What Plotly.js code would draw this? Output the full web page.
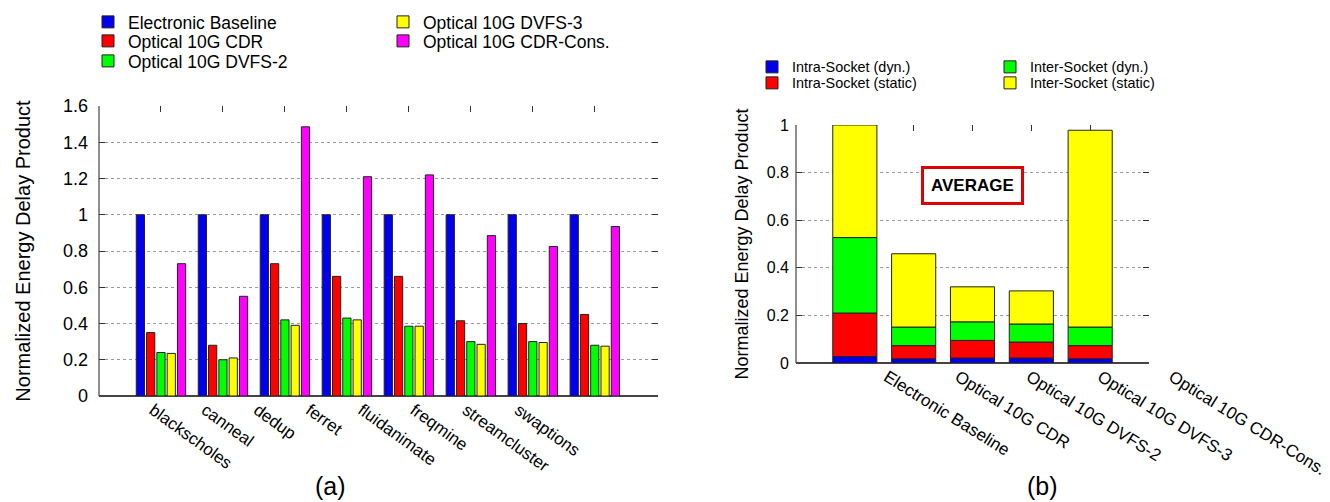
<!DOCTYPE html>
<html>
<head>
<meta charset="utf-8">
<script src="https://cdn.plot.ly/plotly-3.0.1.min.js"></script>
<style>html,body{margin:0;padding:0;background:#fff;}#chart{width:1330px;height:502px;}</style>
</head>
<body>
<div id="chart"></div>
<script>
// ---- Data: panel (a) ----
const benchmarks = ["blackscholes","canneal","dedup","ferret","fluidanimate","freqmine","streamcluster","swaptions"];
const electronicBaseline = [1, 1, 1, 1, 1, 1, 1, 1];
const optical10gCdr      = [0.35, 0.28, 0.73, 0.66, 0.66, 0.415, 0.40, 0.45];
const optical10gDvfs2    = [0.24, 0.20, 0.42, 0.43, 0.385, 0.30, 0.30, 0.28];
const optical10gDvfs3    = [0.235, 0.21, 0.39, 0.42, 0.385, 0.285, 0.295, 0.275];
const optical10gCdrCons  = [0.73, 0.55, 1.485, 1.21, 1.22, 0.885, 0.825, 0.935];
const seriesNamesA = ["Electronic Baseline","Optical 10G CDR","Optical 10G DVFS-2","Optical 10G DVFS-3","Optical 10G CDR-Cons."];
const yTicksA = [0, 0.2, 0.4, 0.6, 0.8, 1, 1.2, 1.4, 1.6];
const yTickTextA = ["0","0.2","0.4","0.6","0.8","1","1.2","1.4","1.6"];

// ---- Data: panel (b) ----
const configurations = ["Electronic Baseline","Optical 10G CDR","Optical 10G DVFS-2","Optical 10G DVFS-3","Optical 10G CDR-Cons."];
const intraSocketDyn    = [0.027, 0.018, 0.021, 0.021, 0.018];
const intraSocketStatic = [0.183, 0.055, 0.074, 0.067, 0.055];
const interSocketDyn    = [0.317, 0.078, 0.078, 0.076, 0.078];
const interSocketStatic = [0.473, 0.308, 0.147, 0.139, 0.827];
const seriesNamesB = ["Intra-Socket (dyn.)","Intra-Socket (static)","Inter-Socket (dyn.)","Inter-Socket (static)"];
const yTicksB = [0, 0.2, 0.4, 0.6, 0.8, 1];
const yTickTextB = ["0","0.2","0.4","0.6","0.8","1"];

const FONT = "Liberation Sans, Arial, Helvetica, sans-serif";
const colorsA = ["#0000ee","#ff0000","#00ff00","#ffff00","#ff00ff"];
const colorsB = ["#0000ee","#ff0000","#00ff00","#ffff00"];
const outline = {color: "#222", width: 1};
const W = 1330, H = 502;
const px = v => v / W, py = v => 1 - v / H;

const traces = [];
const valuesA = [electronicBaseline, optical10gCdr, optical10gDvfs2, optical10gDvfs3, optical10gCdrCons];
const legendIdsA = ["legend","legend2","legend3","legend4","legend5"];
valuesA.forEach((vals, i) => {
  traces.push({
    type: "bar", x: benchmarks, y: vals, name: seriesNamesA[i],
    xaxis: "x", yaxis: "y", legend: legendIdsA[i], showlegend: true,
    marker: {color: colorsA[i], line: outline}
  });
});

const valuesB = [intraSocketDyn, intraSocketStatic, interSocketDyn, interSocketStatic];
const legendIdsB = ["legend6","legend7","legend8","legend9"];
let cumulative = configurations.map(() => 0);
valuesB.forEach((vals, i) => {
  const base = cumulative.slice();
  traces.push({
    type: "bar", x: configurations, y: vals, base: base, name: seriesNamesB[i],
    xaxis: "x2", yaxis: "y2", legend: legendIdsB[i], showlegend: true,
    offsetgroup: "stackB", width: 0.75, offset: -0.375,
    marker: {color: colorsB[i], line: outline}
  });
  cumulative = cumulative.map((c, j) => c + vals[j]);
});

// label-carrying helper traces (draw nothing; they only make the label axes exist)
traces.push({type: "scatter", mode: "none", x: benchmarks.map((_, i) => i), y: electronicBaseline,
  xaxis: "x3", yaxis: "y", showlegend: false, hoverinfo: "skip"});
traces.push({type: "scatter", mode: "none", x: configurations.map((_, i) => i), y: interSocketStatic,
  xaxis: "x4", yaxis: "y3", showlegend: false, hoverinfo: "skip"});

const gridStyle = {showgrid: true, gridcolor: "#9a9a9a", griddash: "dot", gridwidth: 1};
const legendAt = (xPix, topPix, size) => ({
  x: px(xPix), y: py(topPix), xanchor: "left", yanchor: "top", orientation: "v",
  bgcolor: "rgba(0,0,0,0)", borderwidth: 0, traceorder: "normal", visible: true,
  font: {family: FONT, size: size, color: "#000"}
});

const layout = {
  width: W, height: H,
  margin: {l: 0, r: 0, t: 0, b: 0},
  showlegend: true,
  paper_bgcolor: "#fff", plot_bgcolor: "rgba(0,0,0,0)",
  barmode: "group", bargap: 0.17, bargroupgap: 0.2,
  font: {family: FONT, color: "#000"},
  // panel (a) bar axis
  xaxis: {
    domain: [px(99), px(658)], anchor: "y",
    type: "category", range: [-1, 8.02],
    ticks: "inside", ticklen: 6, tickcolor: "#333", mirror: "ticks",
    showline: false, showgrid: false, layer: "below traces",
    showticklabels: false, automargin: false
  },
  // panel (a) label axis (labels are spaced as in the original figure)
  xaxis3: {
    overlaying: "x", anchor: "y", side: "bottom",
    type: "linear", range: [(99 - 153) / 52.2, (658 - 153) / 52.2],
    tickmode: "array", tickvals: benchmarks.map((_, i) => i), ticktext: benchmarks,
    ticks: "", showline: false, showgrid: false, zeroline: false,
    tickangle: 36, tickfont: {family: FONT, size: 17, color: "#000"},
    automargin: false
  },
  yaxis: Object.assign({
    domain: [py(396), py(106)], anchor: "x",
    range: [0, 1.6], tickmode: "array", tickvals: yTicksA, ticktext: yTickTextA,
    ticks: "inside", ticklen: 6, tickcolor: "#333", mirror: "ticks",
    showline: false, zeroline: true, zerolinecolor: "#444", zerolinewidth: 1.2,
    ticklabelstandoff: 10,
    tickfont: {family: FONT, size: 18, color: "#000"},
    title: {text: "Normalized Energy Delay Product", font: {family: FONT, size: 20, color: "#000"}, standoff: 26},
    automargin: false
  }, gridStyle),
  // panel (b) bar axis
  xaxis2: {
    domain: [px(796), px(1149)], anchor: "y2",
    type: "category", range: [-1.0, 5.0],
    ticks: "inside", ticklen: 6, tickcolor: "#333", mirror: "ticks",
    showline: false, showgrid: false, layer: "below traces",
    showticklabels: false, automargin: false
  },
  yaxis2: Object.assign({
    domain: [py(363), py(125)], anchor: "x2",
    range: [0, 1], tickmode: "array", tickvals: yTicksB, ticktext: yTickTextB,
    ticks: "inside", ticklen: 6, tickcolor: "#333", mirror: "ticks",
    showline: false, zeroline: true, zerolinecolor: "#444", zerolinewidth: 1.2,
    ticklabelstandoff: 6,
    tickfont: {family: FONT, size: 16, color: "#000"},
    title: {text: "Normalized Energy Delay Product", font: {family: FONT, size: 18, color: "#000"}, standoff: 13},
    automargin: false
  }, gridStyle),
  // panel (b) label axis, on a hidden helper y axis at the same height
  xaxis4: {
    domain: [px(796), 1], anchor: "y3",
    type: "linear", range: [(796 - 887) / 71.25, (1330 - 887) / 71.25],
    tickmode: "array", tickvals: configurations.map((_, i) => i), ticktext: configurations,
    ticks: "", showline: false, showgrid: false, zeroline: false,
    tickangle: 32, tickfont: {family: FONT, size: 17, color: "#000"},
    automargin: false
  },
  yaxis3: {
    domain: [py(363), py(125)], anchor: "x4", range: [0, 1],
    showgrid: false, zeroline: false, showticklabels: false, showline: false, ticks: ""
  },
  legend:  legendAt(88, 4, 17.5),
  legend2: legendAt(88, 23, 17.5),
  legend3: legendAt(88, 43, 17.5),
  legend4: legendAt(383, 4, 17.5),
  legend5: legendAt(383, 23, 17.5),
  legend6: legendAt(752, 51, 14.4),
  legend7: legendAt(752, 67, 14.4),
  legend8: legendAt(990, 51, 14.4),
  legend9: legendAt(990, 67, 14.4),
  shapes: [
    {type: "line", xref: "x domain", yref: "y domain", x0: 0, x1: 0, y0: 0, y1: 1, line: {color: "#444", width: 1.2}},
    {type: "line", xref: "x2 domain", yref: "y2 domain", x0: 0, x1: 0, y0: 0, y1: 1, line: {color: "#444", width: 1.2}}
  ],
  annotations: [
    {text: "<b>AVERAGE</b>", xref: "x2", yref: "y2", x: "Optical 10G DVFS-2", y: 0.745,
     showarrow: false, bgcolor: "#fff", bordercolor: "#e00000", borderwidth: 3, borderpad: 7,
     font: {family: FONT, size: 17, color: "#000"}},
    {text: "(a)", xref: "paper", yref: "paper", x: px(330), y: py(486), xanchor: "center", yanchor: "middle",
     showarrow: false, font: {family: FONT, size: 25, color: "#000"}},
    {text: "(b)", xref: "paper", yref: "paper", x: px(1042), y: py(486), xanchor: "center", yanchor: "middle",
     showarrow: false, font: {family: FONT, size: 25, color: "#000"}}
  ]
};

Plotly.newPlot("chart", traces, layout, {displayModeBar: false, staticPlot: true});
</script>
</body>
</html>
